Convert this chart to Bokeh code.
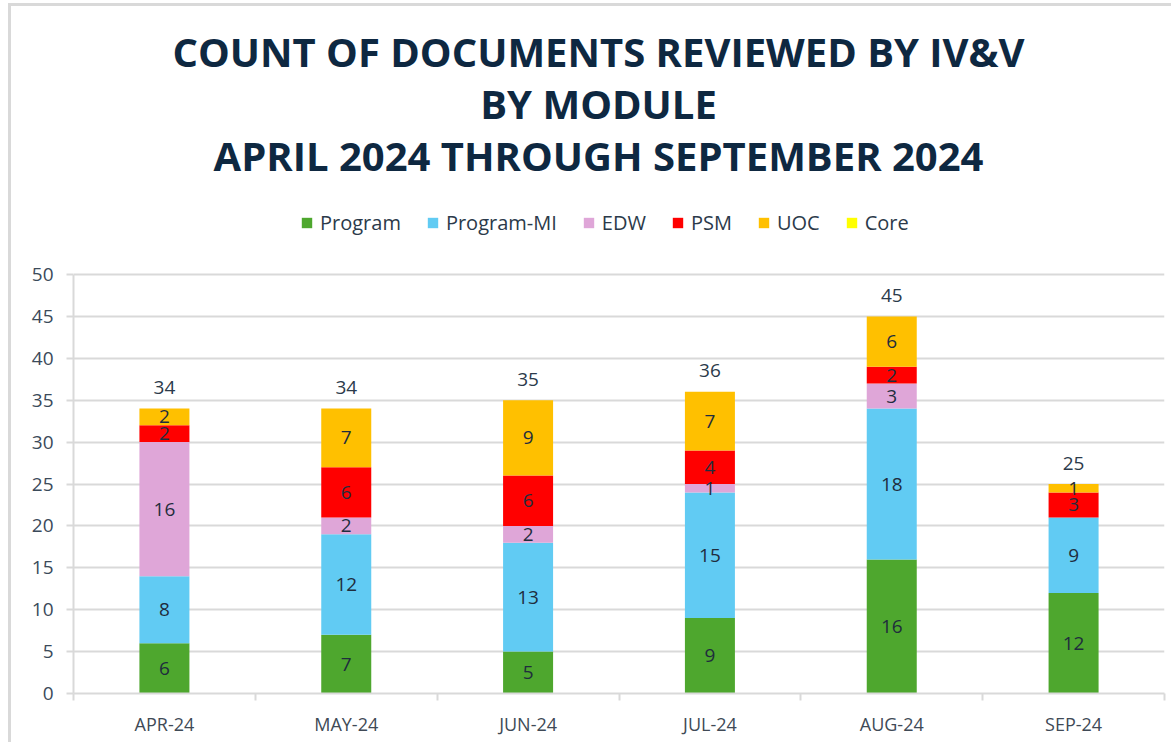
from bokeh.plotting import figure
from bokeh.models import (ColumnDataSource, Range1d, FixedTicker, Legend, LegendItem, Label)
from bokeh.core.properties import value
from bokeh.embed import file_html
from bokeh.resources import INLINE

months = ["APR-24", "MAY-24", "JUN-24", "JUL-24", "AUG-24", "SEP-24"]
series = ["Program", "Program-MI", "EDW", "PSM", "UOC", "Core"]
program = [6, 7, 5, 9, 16, 12]
program_mi = [8, 12, 13, 15, 18, 9]
edw = [16, 2, 2, 1, 3, 0]
psm = [2, 6, 6, 4, 2, 3]
uoc = [2, 7, 9, 7, 6, 1]
core = [0, 0, 0, 0, 0, 0]
colors = ["#4EA72E", "#61CBF3", "#DFA6D8", "#FF0000", "#FFC000", "#FFFF00"]
title_lines = ["COUNT OF DOCUMENTS REVIEWED BY IV&V", "BY MODULE",
               "APRIL 2024 THROUGH SEPTEMBER 2024"]
y_ticks = [0, 5, 10, 15, 20, 25, 30, 35, 40, 45, 50]
y_max = 50

FONT = "Open Sans"
# page offset of the canvas (margin + border drawn by CSS)
OX, OY = 11, 6
W, H = 1176 - OX - 2, 747 - OY - 2
FRAME_LEFT, FRAME_RIGHT = 73 - OX, 1164 - OX
FRAME_TOP, FRAME_BOTTOM = 2, 693 - OY
PLOT_TOP = 274 - OY  # pixel position of y = 50

values = [program, program_mi, edw, psm, uoc, core]
xs = [i + 0.5 for i in range(len(months))]
data = {"x": xs}
for name, vals in zip(series, values):
    data[name] = vals
source = ColumnDataSource(data)

y_end = y_max * (FRAME_BOTTOM - FRAME_TOP) / (FRAME_BOTTOM - PLOT_TOP)

p = figure(width=W, height=H, output_backend="svg", toolbar_location=None,
           x_range=Range1d(0, len(months)), y_range=Range1d(0, y_end),
           min_border_left=FRAME_LEFT, min_border_right=W - FRAME_RIGHT,
           min_border_top=FRAME_TOP, min_border_bottom=H - FRAME_BOTTOM)
p.styles = {"margin-left": "8px", "margin-top": "3px",
            "border-left": "3px solid #D9D9D9", "border-top": "3px solid #D9D9D9"}
p.outline_line_color = None
p.background_fill_color = "white"
p.border_fill_color = "white"

renderers = p.vbar_stack(series, x="x", width=0.275, source=source,
                         color=colors, line_color=None)

# segment labels
lx, ly, lt = [], [], []
for i in range(len(months)):
    cum = 0
    for vals in values:
        v = vals[i]
        if v > 0:
            lx.append(xs[i])
            ly.append(cum + v / 2)
            lt.append(str(v))
        cum += v
p.text(x=lx, y=ly, text=lt, text_align="center", text_baseline="middle",
       text_font=value(FONT), text_font_size="19px", text_color="#1F2D3D")

totals = [sum(vals[i] for vals in values) for i in range(len(months))]
p.text(x=xs, y=totals, text=[str(t) for t in totals], text_align="center",
       text_baseline="middle", y_offset=-21, text_font=value(FONT),
       text_font_size="19px", text_color="#2B3A4A")

# axes
p.yaxis.ticker = FixedTicker(ticks=y_ticks)
p.yaxis.bounds = (0, y_max)
p.yaxis.axis_line_color = "#D9D9D9"
p.yaxis.axis_line_width = 2
p.yaxis.major_tick_line_color = "#D9D9D9"
p.yaxis.major_tick_line_width = 2
p.yaxis.major_tick_out = 7
p.yaxis.major_tick_in = 0
p.yaxis.minor_tick_line_color = None
p.yaxis.major_label_text_font = FONT
p.yaxis.major_label_text_font_size = "19px"
p.yaxis.major_label_text_color = "#3B4A5A"
p.yaxis.major_label_standoff = 13

p.xaxis.ticker = FixedTicker(ticks=xs, minor_ticks=list(range(len(months) + 1)))
p.xaxis.major_label_overrides = {x: m for x, m in zip(xs, months)}
p.xaxis.axis_line_color = "#D9D9D9"
p.xaxis.axis_line_width = 2
p.xaxis.major_tick_line_color = None
p.xaxis.major_tick_out = 0
p.xaxis.major_tick_in = 0
p.xaxis.minor_tick_line_color = "#D9D9D9"
p.xaxis.minor_tick_line_width = 2
p.xaxis.minor_tick_out = 7
p.xaxis.minor_tick_in = 0
p.xaxis.major_label_text_font = FONT
p.xaxis.major_label_text_font_size = "18px"
p.xaxis.major_label_text_color = "#404A56"
p.xaxis.major_label_standoff = 11

p.xgrid.grid_line_color = None
p.ygrid.ticker = FixedTicker(ticks=y_ticks)
p.ygrid.grid_line_color = "#D9D9D9"
p.ygrid.grid_line_width = 2

# legend
items = [LegendItem(label=s, renderers=[r]) for s, r in zip(series, renderers)]
legend = Legend(items=items, orientation="horizontal",
                location=(300 - OX - FRAME_LEFT, FRAME_BOTTOM - (236 - OY)),
                glyph_width=13, glyph_height=13, label_standoff=7, spacing=25,
                padding=0, margin=0, border_line_color=None,
                background_fill_alpha=0,
                label_text_font=FONT, label_text_font_size="20px",
                label_text_color="#2B3A4A")
p.add_layout(legend, "center")

# title lines
title_centers = [51, 103, 155]
for line, cy in zip(title_lines, title_centers):
    p.add_layout(Label(x=598 - OX - FRAME_LEFT, y=FRAME_BOTTOM - (cy - OY),
                       x_units="screen", y_units="screen",
                       text=line, text_align="center", text_baseline="middle",
                       text_font=FONT, text_font_style="bold",
                       text_font_size="40px", text_color="#0E2841"))

open("out.html", "w").write(file_html(p, INLINE))
